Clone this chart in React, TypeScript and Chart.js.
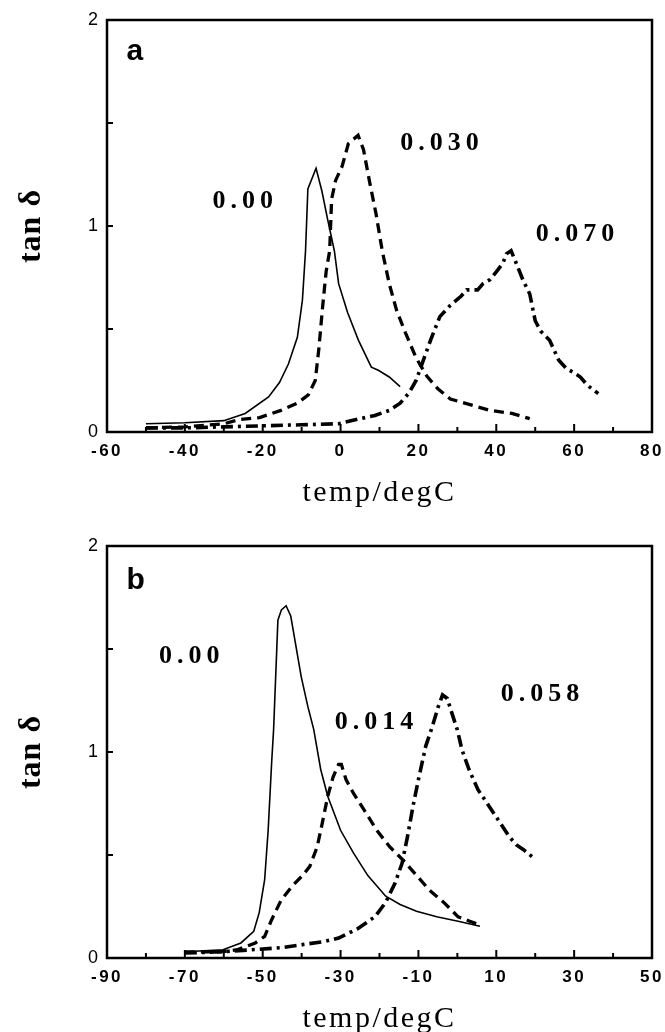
import React, { useEffect, useRef } from "react";
import { Chart, registerables } from "chart.js";

Chart.register(...registerables);

// ---------- Panel a data (temp/degC vs tan delta) ----------
const aSolidX = [-50, -40, -30, -24.5, -18.5, -15.7, -13.4, -11.1, -9.8, -9.0, -8.4, -6.3, -4.8, -3.3, -1.6, -0.5, 1.8, 4.6, 7.9, 9.7, 12.5, 15.3];
const aSolidY = [0.04, 0.045, 0.055, 0.09, 0.17, 0.24, 0.33, 0.46, 0.64, 0.88, 1.18, 1.28, 1.17, 1.03, 0.88, 0.72, 0.58, 0.445, 0.315, 0.3, 0.267, 0.22];

const aDashX = [-50, -40, -30, -26, -20.8, -15.3, -11.1, -8.3, -6.5, -5.6, -4.6, -3.7, -2.8, -2.3, -1.3, 0.4, 2.0, 4.5, 5.9, 7.5, 9.1, 10.7, 12.5, 14.4, 16.7, 19.4, 22.2, 25, 28.2, 31.9, 38.4, 44, 48.6];
const aDashY = [0.02, 0.025, 0.04, 0.06, 0.07, 0.105, 0.14, 0.18, 0.25, 0.4, 0.61, 0.78, 0.88, 1.13, 1.22, 1.29, 1.4, 1.44, 1.37, 1.21, 1.06, 0.88, 0.72, 0.59, 0.48, 0.36, 0.27, 0.21, 0.16, 0.14, 0.105, 0.09, 0.065];

const aDotX = [-50, -40, -30, -20, -10, -0.5, 3.2, 8.8, 12.5, 15.3, 17.6, 19.4, 21.3, 23.1, 25.5, 28.2, 31, 32.4, 35.2, 36.6, 38.4, 40.3, 41.7, 42.6, 43.8, 44.9, 46.8, 48.6, 50, 51.4, 53.7, 56, 57.9, 59.7, 61.6, 63.4, 66.2];
const aDotY = [0.02, 0.02, 0.025, 0.03, 0.035, 0.04, 0.057, 0.08, 0.105, 0.14, 0.19, 0.25, 0.35, 0.445, 0.56, 0.615, 0.66, 0.69, 0.69, 0.72, 0.74, 0.785, 0.82, 0.865, 0.88, 0.83, 0.74, 0.67, 0.54, 0.49, 0.445, 0.35, 0.31, 0.29, 0.267, 0.227, 0.186];

const aXTicks = [-60, -40, -20, 0, 20, 40, 60, 80];
const aXMinor = [-50, -30, -10, 10, 30, 50, 70];
const aLabels = ["0.00", "0.030", "0.070"];
const aLabelX = [-25.1, 25.4, 60.2];
const aLabelY = [1.12, 1.4, 0.96];

// ---------- Panel b data ----------
const bSolidX = [-70, -60.2, -55.6, -52.3, -50.9, -49.5, -48.6, -47.7, -47.2, -46.1, -45.2, -44, -42.8, -40.1, -38.4, -36.9, -35.1, -33.3, -30, -26.7, -23, -18.4, -14.7, -10.5, -5.3, 0.2, 5.8];
const bSolidY = [0.03, 0.04, 0.073, 0.13, 0.22, 0.38, 0.62, 0.95, 1.11, 1.64, 1.69, 1.71, 1.66, 1.365, 1.22, 1.11, 0.915, 0.785, 0.62, 0.51, 0.4, 0.3, 0.26, 0.227, 0.2, 0.178, 0.154];

const bDashX = [-70, -61, -56.5, -51.9, -49.5, -47.7, -45.3, -42.4, -39.8, -37.9, -36, -34.7, -33.3, -31.9, -30.5, -29.8, -28.6, -26.7, -24, -20.7, -17.4, -14.2, -10.9, -7.2, -3.5, 0.2, 3, 5.8];
const bDashY = [0.03, 0.03, 0.04, 0.073, 0.105, 0.186, 0.28, 0.35, 0.4, 0.445, 0.54, 0.655, 0.785, 0.88, 0.94, 0.94, 0.866, 0.8, 0.72, 0.62, 0.54, 0.48, 0.41, 0.33, 0.27, 0.2, 0.18, 0.16];

const bDotX = [-70, -61, -52.8, -45.3, -39.8, -34.2, -30.5, -25.8, -21.2, -18.4, -16, -14.2, -12.8, -11.4, -10, -8.1, -6.5, -4.9, -3.8, -2.6, -1.6, 0, 1.2, 3, 5.3, 7.7, 10.5, 13.3, 15.1, 17, 19.3];
const bDotY = [0.024, 0.03, 0.04, 0.05, 0.065, 0.08, 0.097, 0.14, 0.2, 0.27, 0.364, 0.46, 0.59, 0.736, 0.866, 1.03, 1.12, 1.22, 1.277, 1.26, 1.2, 1.107, 1.01, 0.915, 0.817, 0.75, 0.67, 0.59, 0.55, 0.526, 0.49];

const bXTicks = [-90, -70, -50, -30, -10, 10, 30, 50];
const bXMinor = [-80, -60, -40, -20, 0, 20, 40];
const bLabels = ["0.00", "0.014", "0.058"];
const bLabelX = [-68.9, -21.4, 21.2];
const bLabelY = [1.466, 1.146, 1.28];

const yTicks = [0, 1, 2];
const yMinor = [0.5, 1.5];

const W = 665;
const H = 526;

function pts(xs: number[], ys: number[]) {
  return xs.map((x, i) => ({ x, y: ys[i] }));
}

const framePlugin = {
  id: "frame",
  beforeDraw(chart: any) {
    // spacing for the y axis (drawn before the datasets)
    chart.ctx.letterSpacing = "1px";
  },
  beforeDatasetsDraw(chart: any) {
    // spacing for the x axis (drawn after the datasets, z = 1)
    chart.ctx.letterSpacing = "2.5px";
  },
  afterDraw(chart: any, _args: any, opts: any) {
    const ctx = chart.ctx;
    const { left, right, top, bottom } = chart.chartArea;
    const xs = chart.scales.x;
    const ys = chart.scales.y;
    ctx.save();
    ctx.letterSpacing = "0px";
    ctx.strokeStyle = "#000";
    ctx.lineWidth = 2.5;
    ctx.strokeRect(left, top, right - left, bottom - top);
    ctx.lineWidth = 2;
    const tick = (x1: number, y1: number, x2: number, y2: number) => {
      ctx.beginPath();
      ctx.moveTo(x1, y1);
      ctx.lineTo(x2, y2);
      ctx.stroke();
    };
    opts.xMajor.forEach((v: number) => {
      const p = xs.getPixelForValue(v);
      tick(p, bottom, p, bottom - 8);
    });
    opts.xMinor.forEach((v: number) => {
      const p = xs.getPixelForValue(v);
      tick(p, bottom, p, bottom - 5);
    });
    opts.yMajor.concat(opts.yMinor).forEach((v: number) => {
      const p = ys.getPixelForValue(v);
      tick(left, p, left + 6, p);
    });
    // panel letter
    ctx.fillStyle = "#000";
    ctx.font = 'bold 30px "Liberation Sans", Arial, sans-serif';
    ctx.textAlign = "left";
    ctx.textBaseline = "alphabetic";
    ctx.fillText(opts.letter, xs.getPixelForValue(opts.letterX), ys.getPixelForValue(opts.letterY));
    // curve labels
    ctx.letterSpacing = "5px";
    ctx.font = 'bold 26px "Liberation Serif", "Times New Roman", serif';
    ctx.textAlign = "center";
    ctx.textBaseline = "middle";
    opts.labels.forEach((t: string, i: number) => {
      ctx.fillText(t, xs.getPixelForValue(opts.labelX[i]) + 2.5, ys.getPixelForValue(opts.labelY[i]));
    });
    ctx.restore();
    ctx.letterSpacing = "0px";
  },
};

type Spec = {
  solid: { x: number; y: number }[];
  dash: { x: number; y: number }[];
  dot: { x: number; y: number }[];
  xTicks: number[];
  xMinor: number[];
  labels: string[];
  labelX: number[];
  labelY: number[];
  letter: string;
  letterY: number;
};

function makeConfig(s: Spec): any {
  const xMin = s.xTicks[0];
  const xMax = s.xTicks[s.xTicks.length - 1];
  return {
    type: "line",
    data: {
      datasets: [
        { label: s.labels[0], data: s.solid, borderColor: "#000", borderWidth: 1.6, pointRadius: 0, tension: 0, fill: false },
        { label: s.labels[1], data: s.dash, borderColor: "#000", borderWidth: 3.3, borderDash: [10, 6], pointRadius: 0, tension: 0, fill: false },
        { label: s.labels[2], data: s.dot, borderColor: "#000", borderWidth: 3.6, borderDash: [12, 5, 3, 5], pointRadius: 0, tension: 0, fill: false },
      ],
    },
    options: {
      animation: false,
      responsive: false,
      events: [],
      layout: { padding: { left: 0, right: 13, top: 20, bottom: 0 } },
      plugins: {
        legend: { display: false },
        tooltip: { enabled: false },
        frame: {
          xMajor: s.xTicks,
          xMinor: s.xMinor,
          yMajor: yTicks,
          yMinor: yMinor,
          labels: s.labels,
          labelX: s.labelX,
          labelY: s.labelY,
          letter: s.letter,
          letterX: xMin + 5,
          letterY: s.letterY,
        },
      },
      scales: {
        x: {
          type: "linear",
          min: xMin,
          max: xMax,
          afterBuildTicks: (sc: any) => {
            sc.ticks = s.xTicks.map((v) => ({ value: v }));
          },
          afterFit: (sc: any) => {
            sc.height = H - 432;
            sc.paddingLeft = 0;
            sc.paddingRight = 0;
          },
          grid: { display: false, drawTicks: false, z: 1 },
          border: { display: false },
          ticks: {
            z: 1,
            color: "#000",
            autoSkip: false,
            maxRotation: 0,
            padding: 9,
            font: { family: '"Liberation Sans", Arial, sans-serif', size: 17, weight: "bold" },
            callback: (v: any) => String(v),
          },
          title: {
            display: true,
            text: "temp/degC",
            color: "#000",
            font: { family: '"Liberation Serif", "Times New Roman", serif', size: 30 },
            padding: { top: 0, bottom: 15 },
          },
        },
        y: {
          type: "linear",
          min: 0,
          max: 2,
          afterBuildTicks: (sc: any) => {
            sc.ticks = yTicks.map((v) => ({ value: v }));
          },
          afterFit: (sc: any) => {
            sc.width = 107;
            sc.paddingTop = 0;
            sc.paddingBottom = 0;
          },
          grid: { display: false, drawTicks: false },
          border: { display: false },
          ticks: {
            color: "#000",
            padding: 8,
            font: { family: '"Liberation Sans", Arial, sans-serif', size: 18 },
            callback: (v: any) => String(v),
          },
          title: {
            display: true,
            text: "tan δ",
            color: "#000",
            font: { family: '"Liberation Serif", "Times New Roman", serif', size: 32, weight: "bold" },
            padding: { top: 13, bottom: 0 },
          },
        },
      },
    },
    plugins: [framePlugin],
  };
}

function Panel({ spec, top }: { spec: Spec; top: number }) {
  const ref = useRef<HTMLCanvasElement>(null);
  useEffect(() => {
    if (!ref.current) return;
    const chart = new Chart(ref.current, makeConfig(spec));
    return () => chart.destroy();
  }, []);
  return (
    <canvas
      ref={ref}
      width={W}
      height={H}
      style={{ position: "absolute", left: 0, top, width: W, height: H, display: "block" }}
    />
  );
}

const specA: Spec = {
  solid: pts(aSolidX, aSolidY),
  dash: pts(aDashX, aDashY),
  dot: pts(aDotX, aDotY),
  xTicks: aXTicks,
  xMinor: aXMinor,
  labels: aLabels,
  labelX: aLabelX,
  labelY: aLabelY,
  letter: "a",
  letterY: 1.806,
};

const specB: Spec = {
  solid: pts(bSolidX, bSolidY),
  dash: pts(bDashX, bDashY),
  dot: pts(bDotX, bDotY),
  xTicks: bXTicks,
  xMinor: bXMinor,
  labels: bLabels,
  labelX: bLabelX,
  labelY: bLabelY,
  letter: "b",
  letterY: 1.79,
};

export default function App() {
  return (
    <div
      style={{
        position: "absolute",
        left: 0,
        top: 0,
        width: 665,
        height: 1032,
        overflow: "hidden",
        background: "#fff",
      }}
    >
      <Panel spec={specA} top={0} />
      <Panel spec={specB} top={526} />
    </div>
  );
}
